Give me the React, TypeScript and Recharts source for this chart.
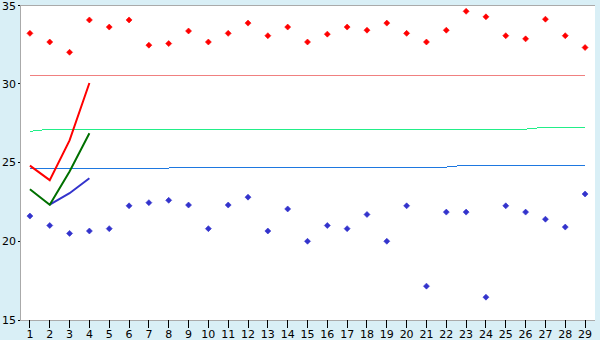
import React from 'react';
import { ComposedChart, Line, XAxis, YAxis, CartesianGrid } from 'recharts';

const days = ['1','2','3','4','5','6','7','8','9','10','11','12','13','14','15','16','17','18','19','20','21','22','23','24','25','26','27','28','29'];
const high = [33.2,32.65,32.0,34.05,33.6,34.05,32.45,32.55,33.35,32.65,33.2,33.85,33.05,33.6,32.65,33.15,33.6,33.4,33.85,33.2,32.65,33.4,34.6,34.25,33.05,32.85,34.1,33.05,32.3];
const low = [21.6,21.0,20.5,20.65,20.8,22.25,22.45,22.6,22.3,20.8,22.3,22.8,20.65,22.05,20.0,21.0,20.8,21.7,20.0,22.25,17.15,21.85,21.85,16.45,22.25,21.85,21.4,20.9,23.0];
const highAvg = [30.55,30.55,30.55,30.55,30.55,30.55,30.55,30.55,30.55,30.55,30.55,30.55,30.55,30.55,30.55,30.55,30.55,30.55,30.55,30.55,30.55,30.55,30.55,30.55,30.55,30.55,30.55,30.55,30.55];
const midAvg = [26.98,27.12,27.12,27.12,27.12,27.12,27.12,27.12,27.12,27.12,27.12,27.12,27.12,27.12,27.12,27.12,27.12,27.12,27.12,27.12,27.12,27.12,27.12,27.12,27.12,27.12,27.24,27.24,27.24];
const lowAvg = [24.65,24.65,24.65,24.65,24.65,24.65,24.65,24.65,24.71,24.71,24.71,24.71,24.71,24.71,24.71,24.71,24.71,24.71,24.71,24.71,24.71,24.71,24.83,24.83,24.83,24.83,24.83,24.83,24.83];
const redTrend = [24.8,23.88,26.4,30.05];
const greenTrend = [23.3,22.31,24.43,26.86];
const blueTrend = [null,22.33,23.05,24.0];
const yTicks = [15,20,25,30,35];

const data = days.map((d, i) => ({
  day: d,
  high: high[i],
  low: low[i],
  highAvg: highAvg[i],
  midAvg: midAvg[i],
  lowAvg: lowAvg[i],
  redTrend: i < redTrend.length ? redTrend[i] : null,
  greenTrend: i < greenTrend.length ? greenTrend[i] : null,
  blueTrend: i < blueTrend.length ? blueTrend[i] : null,
}));

const makeDiamond = (color: string) => (props: any) => {
  const { cx, cy, index } = props;
  if (cx == null || cy == null || isNaN(cy)) return <g key={'e' + index} />;
  const r = 3;
  return (
    <polygon
      key={'d' + index}
      points={`${cx},${cy - r} ${cx + r},${cy} ${cx},${cy + r} ${cx - r},${cy}`}
      fill={color}
      stroke={color}
      strokeWidth={0.6}
    />
  );
};

const font = { fontFamily: 'DejaVu Sans, Verdana, sans-serif', fontSize: 11, fill: '#000' };

export default function App() {
  return (
    <div style={{ position: 'fixed', left: 0, top: 0, width: 600, height: 340, background: '#d9eff6' }}>
      <ComposedChart width={600} height={340} data={data} margin={{ top: 5, right: 5, bottom: 0, left: 0 }}>
        <CartesianGrid vertical={false} stroke="#aaaaaa" fill="#ffffff" fillOpacity={1} shapeRendering="crispEdges" />
        <XAxis
          dataKey="day"
          scale="band"
          height={20}
          interval={0}
          tickSize={8}
          tickMargin={2}
          axisLine={{ stroke: '#aaaaaa', shapeRendering: 'crispEdges' }}
          tickLine={{ stroke: '#000', shapeRendering: 'crispEdges' }}
          tick={font}
        />
        <YAxis
          yAxisId="l"
          domain={[15, 35]}
          ticks={yTicks}
          width={20}
          tickSize={2}
          tickMargin={2}
          axisLine={{ stroke: '#aaaaaa', shapeRendering: 'crispEdges' }}
          tickLine={{ stroke: '#000', shapeRendering: 'crispEdges' }}
          tick={font}
          allowDataOverflow
        />
        <YAxis
          yAxisId="r"
          orientation="right"
          domain={[15, 35]}
          width={0}
          tick={false}
          tickLine={false}
          axisLine={{ stroke: '#aaaaaa', shapeRendering: 'crispEdges' }}
        />
        <Line yAxisId="l" dataKey="highAvg" stroke="#f08080" strokeWidth={1} shapeRendering="crispEdges" dot={false} activeDot={false} isAnimationActive={false} />
        <Line yAxisId="l" dataKey="midAvg" stroke="#22ee88" strokeWidth={1} shapeRendering="crispEdges" dot={false} activeDot={false} isAnimationActive={false} />
        <Line yAxisId="l" dataKey="lowAvg" stroke="#1e78e0" strokeWidth={1} shapeRendering="crispEdges" dot={false} activeDot={false} isAnimationActive={false} />
        <Line yAxisId="l" dataKey="blueTrend" stroke="#3333cc" strokeWidth={2} dot={false} activeDot={false} isAnimationActive={false} />
        <Line yAxisId="l" dataKey="greenTrend" stroke="#007000" strokeWidth={2} dot={false} activeDot={false} isAnimationActive={false} />
        <Line yAxisId="l" dataKey="redTrend" stroke="#ff0000" strokeWidth={2} dot={false} activeDot={false} isAnimationActive={false} />
        <Line yAxisId="l" dataKey="high" stroke="none" dot={makeDiamond('#ff0000')} activeDot={false} isAnimationActive={false} />
        <Line yAxisId="l" dataKey="low" stroke="none" dot={makeDiamond('#3333cc')} activeDot={false} isAnimationActive={false} />
      </ComposedChart>
    </div>
  );
}
